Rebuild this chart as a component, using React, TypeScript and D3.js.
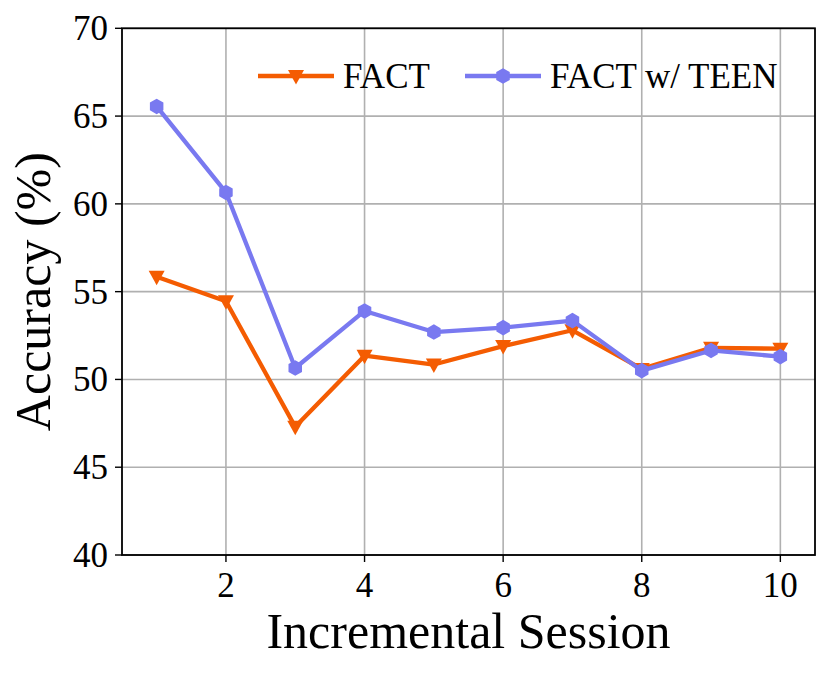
import * as d3 from "d3";

const sessions = [1, 2, 3, 4, 5, 6, 7, 8, 9, 10];
const factValues = [55.85, 54.45, 47.3, 51.35, 50.85, 51.9, 52.8, 50.6, 51.8, 51.75];
const teenValues = [65.55, 60.65, 50.65, 53.9, 52.7, 52.95, 53.35, 50.5, 51.65, 51.3];
const xTicks = [2, 4, 6, 8, 10];
const yTicks = [40, 45, 50, 55, 60, 65, 70];

const W = 830;
const H = 675;
const FONT = "'Liberation Serif', 'Times New Roman', Times, serif";
const ORANGE = "#f45c02";
const PURPLE = "#7979f0";

// hexagon with a point on top (matplotlib 'h')
const hexPath = (r: number) => {
    const pts = d3.range(6).map(i => {
        const a = (Math.PI / 3) * i - Math.PI / 2;
        return [r * Math.cos(a), r * Math.sin(a)];
    });
    return "M" + pts.map(p => p.join(",")).join("L") + "Z";
};
const triDown = (r: number) => `M${-r},${-r * 0.75}L${r},${-r * 0.75}L0,${r * 1.05}Z`;

export default function App() {
    const margin = {top: 28.3, right: 15, bottom: 120, left: 122};
    const x = d3.scaleLinear()
        .domain([0.5, 10.5])
        .range([margin.left, W - margin.right]);
    const y = d3.scaleLinear()
        .domain([40, 70])
        .range([H - margin.bottom, margin.top]);

    const line = d3.line<number>()
        .x((_, i) => x(sessions[i]))
        .y(d => y(d));

    const x0 = x.range()[0], x1 = x.range()[1];
    const y0 = y.range()[0], y1 = y.range()[1];

    return (
        <svg width={W} height={H} style={{position: "absolute", left: 0, top: 0, background: "#fff"}}>
            {/* grid */}
            <g stroke="#b0b0b0" strokeWidth={1.6}>
                {xTicks.map(t => <line key={"gx" + t} x1={x(t)} x2={x(t)} y1={y0} y2={y1}/>)}
                {yTicks.map(t => <line key={"gy" + t} x1={x0} x2={x1} y1={y(t)} y2={y(t)}/>)}
            </g>

            {/* series */}
            <path d={line(factValues) || ""} fill="none" stroke={ORANGE} strokeWidth={4.3} strokeLinejoin="round"/>
            {factValues.map((v, i) => (
                <path key={"f" + i} d={triDown(8)} transform={`translate(${x(sessions[i])},${y(v)})`} fill={ORANGE}/>
            ))}
            <path d={line(teenValues) || ""} fill="none" stroke={PURPLE} strokeWidth={4.3} strokeLinejoin="round"/>
            {teenValues.map((v, i) => (
                <path key={"t" + i} d={hexPath(7.8)} transform={`translate(${x(sessions[i])},${y(v)})`} fill={PURPLE}/>
            ))}

            {/* spines */}
            <rect x={x0} y={y1} width={x1 - x0} height={y0 - y1} fill="none" stroke="#000" strokeWidth={1.8}/>

            {/* ticks */}
            <g stroke="#000" strokeWidth={1.4}>
                {xTicks.map(t => <line key={"tx" + t} x1={x(t)} x2={x(t)} y1={y0} y2={y0 + 7}/>)}
                {yTicks.map(t => <line key={"ty" + t} x1={x0 - 7} x2={x0} y1={y(t)} y2={y(t)}/>)}
            </g>
            <g fontFamily={FONT} fontSize={35} fill="#000">
                {xTicks.map(t => (
                    <text key={"lx" + t} x={x(t)} y={597} textAnchor="middle">{t}</text>
                ))}
                {yTicks.map(t => (
                    <text key={"ly" + t} x={x0 - 14} y={y(t) + 12} textAnchor="end">{t}</text>
                ))}
            </g>

            {/* axis labels */}
            <text x={(x0 + x1) / 2} y={648} textAnchor="middle" fontFamily={FONT} fontSize={50}>
                Incremental Session
            </text>
            <text transform={`translate(50,${(y0 + y1) / 2}) rotate(-90)`} textAnchor="middle"
                  fontFamily={FONT} fontSize={50}>
                Accuracy (%)
            </text>

            {/* legend */}
            <g fontFamily={FONT} fontSize={35}>
                <line x1={258} x2={334} y1={76} y2={76} stroke={ORANGE} strokeWidth={4.3}/>
                <path d={triDown(8)} transform="translate(296,76)" fill={ORANGE}/>
                <text x={343} y={88}>FACT</text>
                <line x1={465} x2={541} y1={76} y2={76} stroke={PURPLE} strokeWidth={4.3}/>
                <path d={hexPath(7.8)} transform="translate(503,76)" fill={PURPLE}/>
                <text x={550} y={88}>FACT w/ TEEN</text>
            </g>
        </svg>
    );
}
